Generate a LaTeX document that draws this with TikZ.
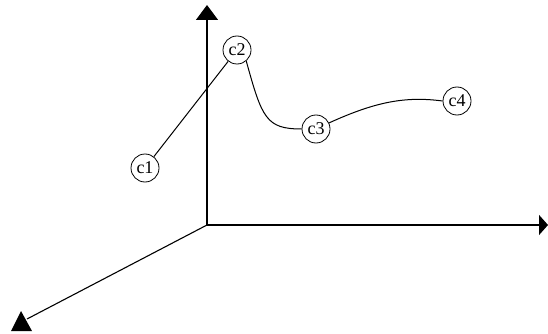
\documentclass[tikz,border=0pt]{standalone}
\usepackage{fontspec}
\setmainfont{Liberation Serif}
\usetikzlibrary{arrows.meta,positioning,shapes.geometric}

\begin{document}
\begin{tikzpicture}[x=1pt, y=-1pt, every node/.style={draw, circle, line width=0.8pt, minimum size=28pt, inner sep=0pt, font=\fontsize{18}{18}\selectfont}]
		\useasboundingbox (0,0) rectangle (548,334);
		
		% axes
		\coordinate (o) at (207,225);
		\coordinate (ytip) at (207,5);
		\coordinate (xtip) at (548,225);
		\coordinate (ztip) at (27,319);
		
		\draw[line width=1.3pt, -{Triangle[width=22pt,length=15pt]}] (o) -- (ytip);
		\draw[line width=1.3pt, -{Triangle[width=20pt,length=9pt]}] (o) -- (xtip);
		\draw[line width=1.1pt] (o) -- (ztip);
		\fill (11,331) -- (21,311) -- (32,331) -- cycle;
		
		\node (c1) at (145,168) {c1};
		\node (c2) at (237,50) {c2};
		\node (c3) at (316,129) {c3};
		\node (c4) at (457,101) {c4};
		
		% Draw edges
		\draw[line width=1pt] (c1) -- (c2);
		\draw[line width=1pt] (c2.-50) .. controls (262,118) and (266,129) .. (c3.west);
		\draw[line width=1pt] (c3.25) .. controls (375,102) and (405,96) .. (c4.west);
	\end{tikzpicture}
\end{document}
